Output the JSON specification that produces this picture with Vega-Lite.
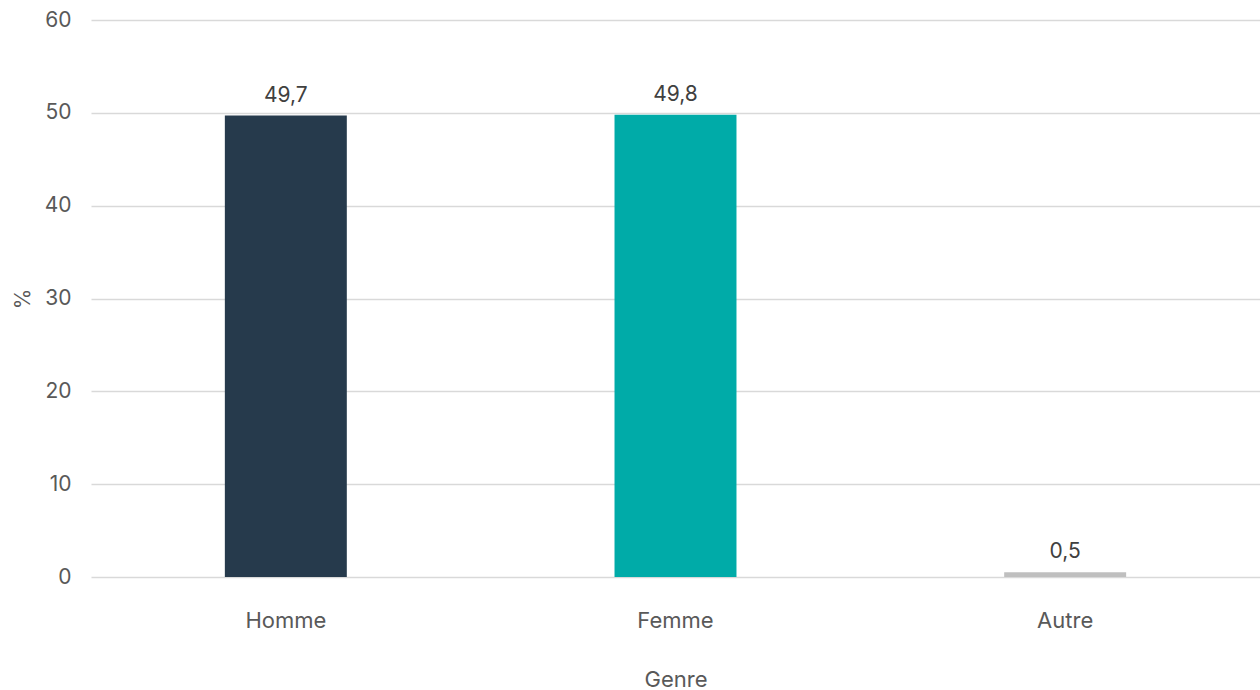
{
  "$schema": "https://vega.github.io/schema/vega-lite/v6.json",
  "width": 1260,
  "height": 690,
  "autosize": {"type": "fit", "contains": "padding"},
  "padding": {"left": 12, "top": 9, "right": 0, "bottom": 0},
  "config": {
    "view": {"stroke": null},
    "font": "Inter",
    "locale": {"number": {"decimal": ",", "thousands": " ", "grouping": [3], "currency": ["", " €"]}}
  },
  "data": {
    "values": [
      {"Genre": "Homme", "pct": 49.7},
      {"Genre": "Femme", "pct": 49.8},
      {"Genre": "Autre", "pct": 0.5}
    ]
  },
  "encoding": {
    "x": {
      "field": "Genre", "type": "nominal", "sort": null,
      "scale": {"paddingInner": 0.687, "paddingOuter": 0.3435},
      "axis": {"title": "Genre", "labelAngle": 0, "ticks": false, "domain": false,
        "labelPadding": 33, "labelFontSize": 22, "labelColor": "#595959",
        "titleFontSize": 22, "titleFontWeight": "normal", "titleColor": "#595959", "titlePadding": 38}
    },
    "y": {
      "field": "pct", "type": "quantitative",
      "scale": {"domain": [0, 60]},
      "axis": {"title": "%", "values": [0, 10, 20, 30, 40, 50, 60], "ticks": false, "domain": false,
        "labelPadding": 20, "labelFontSize": 21, "labelColor": "#595959",
        "gridColor": "#d9d9d9", "gridWidth": 1.5,
        "titleFontSize": 21, "titleFontWeight": "normal", "titleColor": "#595959", "titlePadding": 11}
    }
  },
  "layer": [
    {
      "mark": {"type": "bar"},
      "encoding": {
        "color": {"field": "Genre", "type": "nominal", "legend": null,
          "scale": {"domain": ["Homme", "Femme", "Autre"], "range": ["#263a4c", "#00aba8", "#bfbfbf"]}}
      }
    },
    {
      "mark": {"type": "text", "baseline": "bottom", "dy": -10, "fontSize": 21, "color": "#404040"},
      "encoding": {"text": {"field": "pct", "type": "quantitative", "format": ".1f"}}
    }
  ]
}
